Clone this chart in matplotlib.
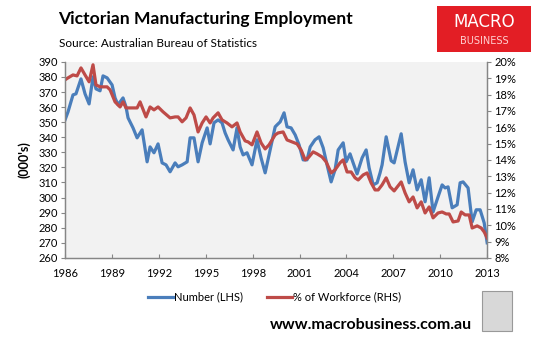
import matplotlib
matplotlib.use("Agg")
import matplotlib.pyplot as plt
import numpy as np
from matplotlib.patches import Rectangle

plt.rcParams['font.family'] = ['Lato', 'DejaVu Sans']

# employment, number ('000s), LHS
num_years = [1986.00, 1986.19, 1986.51, 1986.70, 1987.02, 1987.28, 1987.54, 1987.79, 1987.98, 1988.24,
             1988.43, 1988.69, 1989.01, 1989.20, 1989.39, 1989.71, 1989.90, 1990.03, 1990.35, 1990.61,
             1990.93, 1991.25, 1991.44, 1991.69, 1991.95, 1992.21, 1992.46, 1992.72, 1993.04, 1993.23,
             1993.49, 1993.81, 1994.00, 1994.25, 1994.51, 1994.77, 1995.09, 1995.28, 1995.53, 1995.79,
             1996.04, 1996.24, 1996.43, 1996.75, 1997.00, 1997.20, 1997.39, 1997.64, 1997.96, 1998.28,
             1998.54, 1998.80, 1999.05, 1999.44, 1999.56, 1999.76, 2000.01, 2000.20, 2000.46, 2000.72,
             2000.97, 2001.23, 2001.48, 2001.68, 2001.99, 2002.25, 2002.51, 2002.76, 2003.02, 2003.27,
             2003.47, 2003.79, 2003.98, 2004.23, 2004.43, 2004.68, 2005.00, 2005.26, 2005.45, 2005.71,
             2005.96, 2006.15, 2006.28, 2006.54, 2006.86, 2007.05, 2007.50, 2007.75, 2008.01, 2008.26,
             2008.52, 2008.78, 2009.03, 2009.29, 2009.54, 2009.86, 2010.12, 2010.31, 2010.50, 2010.76,
             2011.08, 2011.27, 2011.46, 2011.78, 2012.04, 2012.30, 2012.55, 2012.81, 2013.00]
number = [351.5, 356.8, 368.1, 368.8, 378.7, 368.8, 362.1, 380.1, 372.1, 370.8,
          380.7, 379.4, 374.7, 366.1, 361.5, 366.1, 360.2, 352.9, 346.2, 339.6,
          344.9, 323.7, 333.6, 329.7, 335.6, 323.0, 321.7, 317.1, 323.0, 320.4,
          321.7, 323.7, 339.6, 339.6, 323.7, 336.3, 346.2, 335.6, 349.6, 351.5,
          349.6, 342.9, 338.3, 331.6, 346.2, 333.6, 328.3, 329.7, 321.7, 338.3,
          326.3, 316.4, 328.3, 346.9, 348.2, 350.2, 356.2, 346.9, 346.2, 341.6,
          335.0, 325.0, 325.0, 333.6, 338.3, 340.3, 333.0, 321.7, 310.4, 318.4,
          331.6, 336.3, 323.7, 329.0, 323.0, 315.7, 326.3, 331.6, 319.7, 308.4,
          309.8, 316.4, 321.7, 340.3, 324.4, 323.0, 342.3, 323.7, 309.8, 318.4,
          305.1, 311.8, 297.2, 313.1, 290.5, 300.5, 308.4, 306.4, 307.1, 293.2,
          295.2, 309.8, 310.4, 306.4, 283.9, 291.9, 291.9, 283.2, 270.0]

# share of workforce (%), RHS
pct_years = [1986.00, 1986.19, 1986.51, 1986.77, 1987.02, 1987.28, 1987.54, 1987.79, 1987.98, 1988.24,
             1988.69, 1988.88, 1989.20, 1989.52, 1989.71, 1989.90, 1990.29, 1990.61, 1990.80, 1991.18,
             1991.44, 1991.69, 1991.95, 1992.27, 1992.72, 1993.04, 1993.23, 1993.49, 1993.74, 1994.00,
             1994.25, 1994.51, 1994.77, 1995.02, 1995.28, 1995.47, 1995.79, 1996.04, 1996.36, 1996.68,
             1997.00, 1997.20, 1997.52, 1997.71, 1997.96, 1998.28, 1998.54, 1998.80, 1999.05, 1999.44,
             1999.63, 1999.95, 2000.20, 2000.52, 2000.84, 2001.10, 2001.36, 2001.55, 2001.87, 2002.12,
             2002.44, 2002.70, 2003.02, 2003.27, 2003.59, 2003.79, 2004.04, 2004.30, 2004.55, 2004.75,
             2005.07, 2005.32, 2005.58, 2005.83, 2006.03, 2006.28, 2006.54, 2006.79, 2007.05, 2007.50,
             2007.75, 2008.01, 2008.26, 2008.52, 2008.78, 2009.03, 2009.29, 2009.54, 2009.86, 2010.12,
             2010.38, 2010.57, 2010.82, 2011.14, 2011.34, 2011.59, 2011.85, 2012.04, 2012.36, 2012.62,
             2012.81, 2013.00]
pct_workforce = [18.90, 19.02, 19.20, 19.14, 19.63, 19.20, 18.78, 19.82, 18.59, 18.47,
                 18.47, 18.29, 17.55, 17.24, 17.55, 17.18, 17.18, 17.18, 17.55, 16.63,
                 17.24, 17.06, 17.24, 16.94, 16.57, 16.63, 16.63, 16.33, 16.57, 17.18,
                 16.75, 15.71, 16.26, 16.63, 16.26, 16.57, 16.88, 16.45, 16.26, 16.02,
                 16.26, 15.71, 15.16, 15.10, 14.92, 15.71, 15.04, 14.67, 14.92, 15.53,
                 15.65, 15.71, 15.22, 15.10, 14.98, 14.61, 14.00, 14.12, 14.49, 14.37,
                 14.18, 13.88, 13.20, 13.39, 13.82, 14.00, 13.26, 13.26, 12.90, 12.77,
                 13.08, 13.20, 12.59, 12.16, 12.16, 12.47, 12.90, 12.35, 12.10, 12.65,
                 11.98, 11.43, 11.73, 11.06, 11.43, 10.75, 11.12, 10.45, 10.75, 10.81,
                 10.69, 10.69, 10.20, 10.26, 10.81, 10.63, 10.63, 9.83, 9.96, 9.83,
                 9.59, 9.22]

year_ticks = list(range(1986, 2014, 3))

blue = '#4a7ebb'
red = '#be4b48'
axis_grey = '#868686'

fig = plt.figure(figsize=(5.33, 3.38), dpi=100)
ax = fig.add_axes([0.122, 0.237, 0.792, 0.580])
ax.set_facecolor('#f2f2f2')
ax2 = ax.twinx()

ax.plot(num_years, number, color=blue, lw=2.3, solid_joinstyle='round')
ax2.plot(pct_years, pct_workforce, color=red, lw=2.3, solid_joinstyle='round')

ax.set_xlim(1986, 2013)
ax.set_ylim(260, 390)
ax.set_yticks(np.arange(260, 391, 10))
ax2.set_ylim(8, 20)
ax2.set_yticks(np.arange(8, 21, 1))
ax2.set_yticklabels([f'{v}%' for v in range(8, 21)])
ax.set_xticks(year_ticks)
ax.set_xticklabels([str(y) for y in year_ticks])

for a in (ax, ax2):
    a.spines['top'].set_visible(False)
    for s in ('left', 'right', 'bottom'):
        a.spines[s].set_color(axis_grey)
        a.spines[s].set_linewidth(0.9)
ax.tick_params(axis='y', length=3, color=axis_grey, labelsize=8, pad=2)
ax.tick_params(axis='x', direction='in', length=3, color=axis_grey, labelsize=8, pad=7)
ax2.tick_params(axis='y', length=3, color=axis_grey, labelsize=8, pad=2)

ax.set_ylabel("(000's)", fontsize=9, fontweight='bold', labelpad=6)

fig.text(0.109, 0.945, 'Victorian Manufacturing Employment', fontsize=12.6,
         fontweight='bold', va='center', ha='left')
fig.text(0.111, 0.872, 'Source: Australian Bureau of Statistics', fontsize=8.5,
         va='center', ha='left')

# MacroBusiness logo
fig.patches.append(Rectangle((0.820, 0.845), 0.176, 0.137, transform=fig.transFigure,
                             facecolor='#e31e25', edgecolor='none'))
fig.text(0.908, 0.935, 'MACRO', color='white', fontsize=12, ha='center', va='center',
         family=['DejaVu Sans'])
fig.text(0.908, 0.878, 'BUSINESS', color='#ffd0d0', fontsize=7, ha='center', va='center',
         family=['DejaVu Sans'])

# legend
ax.plot([], [], color=blue, lw=2.3, label='Number (LHS)')
ax.plot([], [], color=red, lw=2.3, label='% of Workforce (RHS)')
fig.legend(loc='center', bbox_to_anchor=(0.515, 0.121), ncol=2, frameon=False,
           fontsize=8, handlelength=2.2, handletextpad=0.1, columnspacing=2.2)

fig.text(0.885, 0.038, 'www.macrobusiness.com.au', fontsize=11.5, fontweight='bold',
         ha='right', va='center')
fig.patches.append(Rectangle((0.905, 0.020), 0.056, 0.118, transform=fig.transFigure,
                             facecolor='#d8d8d8', edgecolor='#999999', lw=0.8))

fig.savefig('out.png', dpi=100)
